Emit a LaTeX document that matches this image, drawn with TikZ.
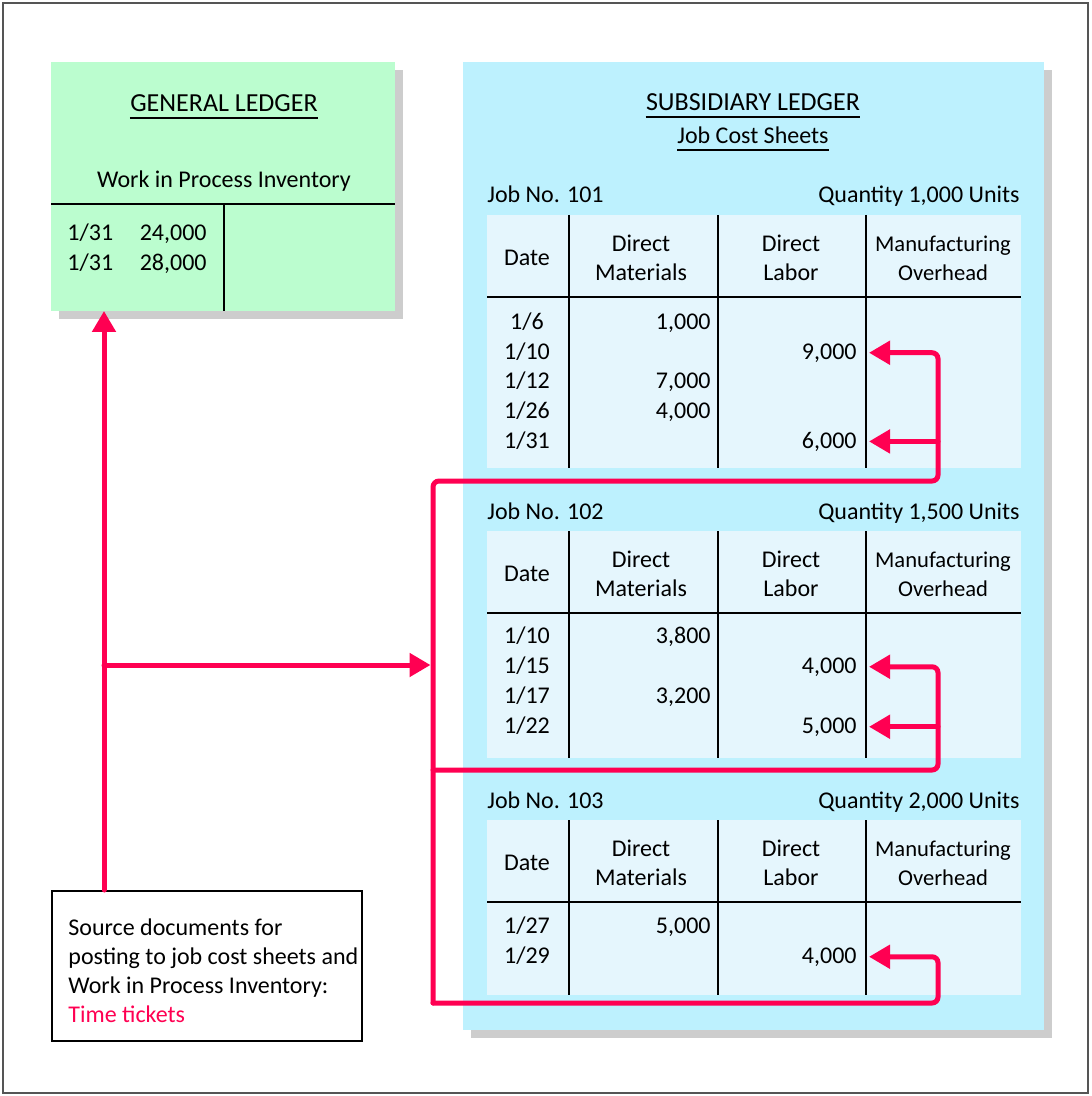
\documentclass[tikz,border=0pt]{standalone}
\usepackage{fontspec}
\setmainfont{Carlito}
\usetikzlibrary{arrows.meta,positioning,shadows}

\definecolor{ledgergreen}{HTML}{BBFDCF}
\definecolor{ledgerblue}{HTML}{BDF1FE}
\definecolor{sheetblue}{HTML}{E5F6FD}
\definecolor{postred}{HTML}{FF0052}
\definecolor{shadowgray}{HTML}{CDCDCD}
\definecolor{framegray}{HTML}{555555}

\tikzset{
  ledger/.style={anchor=north west, inner sep=0pt, outer sep=0pt,
    drop shadow={shadow xshift=4pt, shadow yshift=-4pt, fill=shadowgray, opacity=1}},
  rule/.style={line width=1pt},
  post/.style={draw=postred, line width=2.5pt, rounded corners=3pt, line cap=round,
    -{Triangle[length=10.5pt,width=11.5pt]}},
  entry/.style={anchor=base, inner sep=0pt},
  amount/.style={anchor=base east, inner sep=0pt},
  head/.style={align=center, inner sep=0pt},
  title/.style={entry, font=\fontsize{13}{15}\selectfont},
}

\begin{document}
\begin{tikzpicture}[x=0.5pt, y=-0.5pt, font=\fontsize{12}{14.5}\selectfont]
\useasboundingbox (0,0) rectangle (1091,1096);
\draw[framegray, line width=0.6pt] (3,3) rectangle (1088,1093);%%

%% general ledger account
\node (gl) [ledger, fill=ledgergreen, minimum width=172pt, minimum height=124.5pt] at (51,62) {};
\node (gltitle) [title] at (224,112) {GENERAL LEDGER};
\draw[rule] ([yshift=-3pt]gltitle.base west) -- ([yshift=-3pt]gltitle.base east);
\node (wip) [entry] at (224,188) {Work in Process Inventory};
\draw[rule] (51,204) -- (395,204);%%
\draw[rule] (224,204) -- (224,311);%%
\node (wipa) [entry, anchor=base west] at (67,241) {1/31};
\node (wipb) [entry, anchor=base west] at (67,271) {1/31};
\node (wipc) [amount] at (207,241) {24,000};
\node (wipd) [amount] at (207,271) {28,000};

%% subsidiary ledger
\node (sl) [ledger, fill=ledgerblue, minimum width=290.5pt, minimum height=484pt] at (463,62) {};
\node (sltitle) [title] at (753,111) {SUBSIDIARY LEDGER};
\draw[rule] ([yshift=-3pt]sltitle.base west) -- ([yshift=-3pt]sltitle.base east);
\node (jcs) [entry] at (753,144) {Job Cost Sheets};
\draw[rule] ([yshift=-3pt]jcs.base west) -- ([yshift=-3pt]jcs.base east);

%% job cost sheets
\foreach \top/\bot/\job/\qty in {215/468/101/{1,000},531/758/102/{1,500},820/995/103/{2,000}}{
  \fill[sheetblue] (487,\top) rectangle (1021,\bot);
  \draw[rule] (487,\top+82) -- (1021,\top+82);
  \draw[rule] (569,\top) -- (569,\bot);
  \draw[rule] (718,\top) -- (718,\bot);
  \draw[rule] (866,\top) -- (866,\bot);
  \node (job\job) [entry, anchor=base west] at (487,\top-12) {Job No. \job};
  \node (qty\job) [amount] at (1020,\top-12) {Quantity \qty\ Units};
  \node (date\job) [head] at (527,\top+43) {Date};
  \node (dm\job) [head] at (641,\top+43) {Direct\\Materials};
  \node (dl\job) [head] at (791,\top+43) {Direct\\Labor};
  \node (mo\job) [head, font=\fontsize{11.3}{14.5}\selectfont] at (943,\top+43) {Manufacturing\\Overhead};
}

%% job 101
\node (d101a) [entry] at (527,329) {1/6};
\node (d101b) [entry] at (527,359) {1/10};
\node (d101c) [entry] at (527,388) {1/12};
\node (d101d) [entry] at (527,418) {1/26};
\node (d101e) [entry] at (527,448) {1/31};
\node (m101a) [amount] at (711,329) {1,000};
\node (m101c) [amount] at (711,388) {7,000};
\node (m101d) [amount] at (711,418) {4,000};
\node (l101b) [amount] at (857,359) {9,000};
\node (l101e) [amount] at (857,448) {6,000};

%% job 102
\node (d102a) [entry] at (527,643) {1/10};
\node (d102b) [entry] at (527,673) {1/15};
\node (d102c) [entry] at (527,703) {1/17};
\node (d102d) [entry] at (527,733) {1/22};
\node (m102a) [amount] at (711,643) {3,800};
\node (m102c) [amount] at (711,703) {3,200};
\node (l102b) [amount] at (857,673) {4,000};
\node (l102d) [amount] at (857,733) {5,000};

%% job 103
\node (d103a) [entry] at (527,933) {1/27};
\node (d103b) [entry] at (527,963) {1/29};
\node (m103a) [amount] at (711,933) {5,000};
\node (l103b) [amount] at (857,963) {4,000};

%% source documents
\node (src) [draw, fill=white, line width=0.8pt, anchor=north west, inner sep=0pt,
  minimum width=155pt, minimum height=75pt] at (51,890) {};
\node (srctext) [anchor=north west, align=left, inner sep=0pt] at (68,918)
  {Source documents for\\posting to job cost sheets and\\Work in Process Inventory:\\
   \textcolor{postred}{Time tickets}};

%% postings of time tickets
\coordinate (feed) at (104,665);
\coordinate (spine101) at (433,481);
\coordinate (spine102) at (433,770);
\coordinate (spine103) at (433,1003);
\coordinate (bend101) at (938,481);
\coordinate (bend102) at (938,770);
\coordinate (bend103) at (938,1003);
\draw[post] (src.north -| feed) -- (gl.south -| feed);
\draw[post, shorten >=1.25pt] (feed) -- (spine102 |- feed);
\draw[post] (spine103) -- (spine101) -- (bend101) |- ([xshift=6pt]l101b.east);
\draw[post] (bend101 |- l101e.east) -- ([xshift=6pt]l101e.east);
\draw[post] (spine102) -- (bend102) |- ([xshift=6pt]l102b.east);
\draw[post] (bend102 |- l102d.east) -- ([xshift=6pt]l102d.east);
\draw[post] (spine103) -- (bend103) |- ([xshift=6pt]l103b.east);
\end{tikzpicture}
\end{document}
